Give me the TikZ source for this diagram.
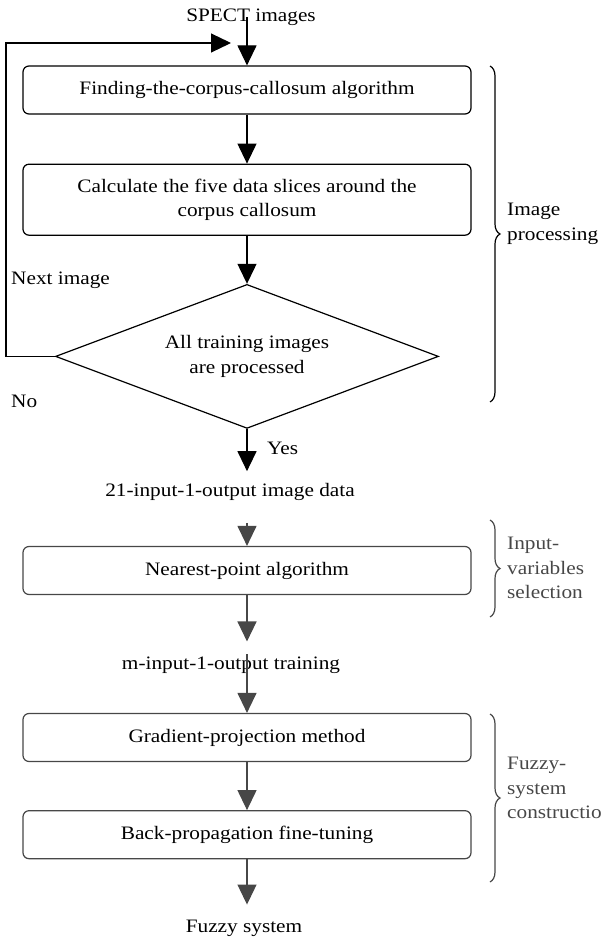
\documentclass[tikz,border=0pt]{standalone}
\usepackage{fontspec}
\setmainfont{Liberation Serif}[FakeStretch=1.12]
\usetikzlibrary{positioning,arrows.meta,shapes.geometric,decorations.pathreplacing}
\definecolor{ink}{HTML}{000000}
\definecolor{dim}{HTML}{474747}
\newcommand{\fs}{\fontsize{19}{24.5}\selectfont}
\tikzset{
  box/.style={rectangle, rounded corners=6pt, draw=ink, line width=1.2pt,
              minimum width=448pt, minimum height=48pt, align=center, font=\fs},
  test/.style={diamond, draw=ink, line width=1.2pt, aspect=2.66, inner sep=0pt,
               minimum width=383pt, minimum height=144pt, align=center, font=\fs},
  txt/.style={align=center, font=\fs, inner sep=2pt},
  side/.style={align=left, font=\fs, inner sep=2pt, anchor=west},
  flow/.style={-{Triangle[length=20pt,width=19pt]}, line width=1.2pt, draw=ink},
  grp/.style={decorate, decoration={brace, amplitude=10pt}, line width=1.2pt, draw=ink}
}

\begin{document}
\begin{tikzpicture}[x=1pt, y=-1pt]
\useasboundingbox (0,0) rectangle (601,939);
\node[txt] (spect) at (251,17) {SPECT images};
\node[box] (find) at (247,90) {Finding-the-corpus-callosum algorithm};
\node[box, minimum height=71pt, below=49pt of find] (slices) {Calculate the five data slices around the\\corpus callosum};
\node[test, below=48pt of slices] (done) {All training images\\are processed};
\node[txt] (imgdata) at (230,492) {21-input-1-output image data};
\node[box, draw=dim] (near) at (247,570.5) {Nearest-point algorithm};
\node[txt] (mtrain) at (231,665) {m-input-1-output training};
\node[box, draw=dim] (grad) at (247,737.5) {Gradient-projection method};
\node[box, draw=dim, below=48pt of grad] (bp) {Back-propagation fine-tuning};
\node[txt] (fuzzy) at (244,928) {Fuzzy system};
\coordinate (back) at (231,43);
\node[side] (next) at (9,280) {Next image};
\node[side] (no) at (9,401) {No};
\node[side] (yes) at (265,448) {Yes};
\draw[flow] (spect.center -| find.north) -- (find); \draw[flow] (find) -- (slices);
\draw[flow] (slices) -- (done); \draw[flow] (done.west) -- ++(-49,0) |- (back);
\draw[flow, shorten >=10pt] (done) -- (imgdata.north -| done.south);
\draw[flow, draw=dim, shorten <=20pt] (imgdata.south -| near.north) -- (near);
\draw[flow, draw=dim, shorten >=13pt] (near) -- (mtrain.north -| near.south);
\draw[flow, draw=dim] (mtrain.north -| grad.north) -- (grad); \draw[flow, draw=dim] (grad) -- (bp);
\draw[flow, draw=dim, shorten >=13pt] (bp) -- (fuzzy.north -| bp.south);
\draw[grp] (490,66) -- (490,402);
\draw[grp, draw=dim] (490,520) -- (490,617);
\draw[grp, draw=dim] (490,714) -- (490,882);
\node[side] (imgproc) at (505,224) {Image\\processing};
\node[side, text=dim] (varsel) at (505,568) {Input-\\variables\\selection};
\node[side, text=dim] (fzcons) at (505,788) {Fuzzy-\\system\\construction};
\end{tikzpicture}
\end{document}
